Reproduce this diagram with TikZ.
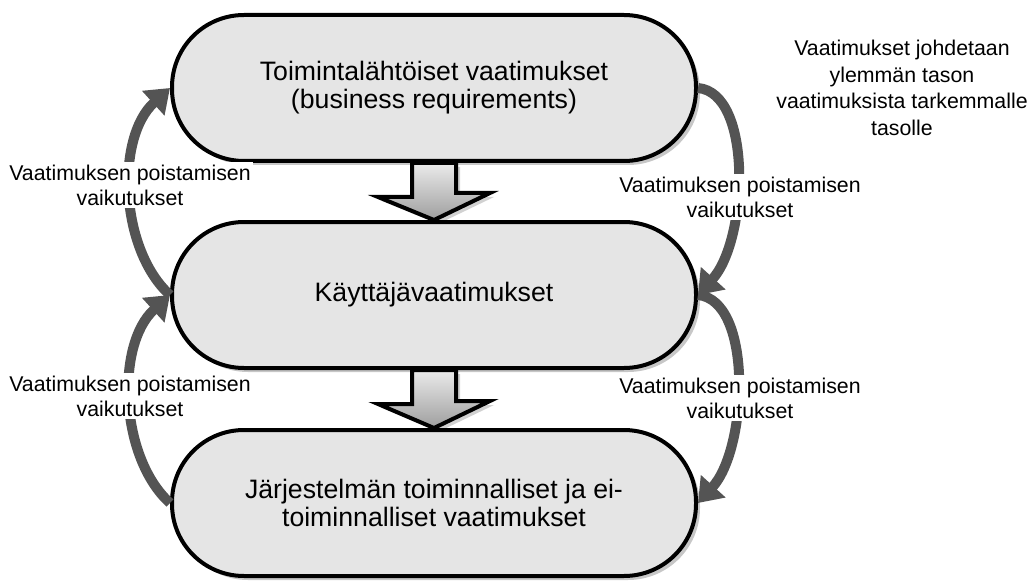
\documentclass[tikz,border=0pt]{standalone}
\usepackage{fontspec}
\setmainfont{Liberation Sans}
\usetikzlibrary{arrows.meta,shadows}

\begin{document}
\begin{tikzpicture}
[x=0.75pt,y=-0.75pt,
 stagebox/.style={shape=rectangle,draw=black,line width=3pt,fill=black!10,
   rounded corners=54pt,minimum width=393pt,minimum height=109.5pt,align=center,
   font=\fontsize{20pt}{21pt}\selectfont,
   drop shadow={shadow xshift=3pt,shadow yshift=-3pt,fill=black,opacity=0.22}},
 blockarrow/.style={draw=black,line width=3pt,line join=miter,
   top color=black!8,bottom color=black!38,
   drop shadow={shadow xshift=3pt,shadow yshift=-3pt,fill=black,opacity=0.18}},
 looparrow/.style={draw=black!67,line width=7.5pt,-{Triangle[width=24pt,length=17pt]}},
 labeltext/.style={fill=white,align=center,inner sep=2pt,
   font=\fontsize{16pt}{18.75pt}\selectfont},
 notetext/.style={align=center,inner sep=0pt,font=\fontsize{16pt}{20pt}\selectfont}]
\useasboundingbox (0,0) rectangle (1035,581);
%% stages
\foreach \nodename/\y/\txt in {toim/88/{Toimintalähtöiset vaatimukset\\(business requirements)},
  kayt/295/{Käyttäjävaatimukset},
  jarj/503/{Järjestelmän toiminnalliset ja ei-\\toiminnalliset vaatimukset}} {
  \node[stagebox] (\nodename) at (434,\y) {\txt};
}
%% block arrows between stages
\foreach \topnode/\bottomnode in {toim/kayt, kayt/jarj} {
  \draw[blockarrow] ([xshift=-16.5pt]\topnode.south) -- ++(0,34) -- ++(-34,0)
    -- (\bottomnode.north) -- ++(56,-27) -- ++(-34,0) |- cycle;
}
%% loops
\foreach \startnode/\endnode in {kayt/toim, jarj/kayt} {
  \draw[looparrow] (\startnode.west) .. controls +(-50,-45) and +(-55,50) .. (\endnode.west);
}
\foreach \startnode/\endnode in {toim/kayt, kayt/jarj} {
  \draw[looparrow] (\startnode.east) .. controls +(55,5) and +(50,-55) .. (\endnode.east);
}
%% labels
\foreach \labelname/\x/\y in {leftup/130/185, rightup/740/197, leftlow/130/396,
  rightlow/740/398} {
  \node[labeltext] (\labelname) at (\x,\y) {Vaatimuksen poistamisen\\vaikutukset};
}
\node[notetext] (note) at (902,88)
  {Vaatimukset johdetaan\\ylemmän tason\\vaatimuksista tarkemmalle\\tasolle};
\end{tikzpicture}
\end{document}
